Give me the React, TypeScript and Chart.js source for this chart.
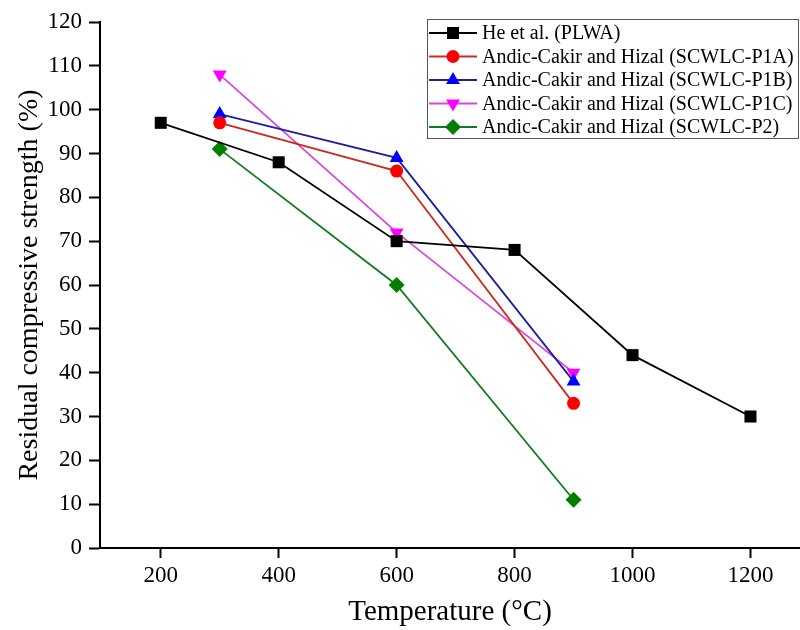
import React, { useEffect, useRef } from "react";
import { Chart, registerables } from "chart.js";

Chart.register(...registerables);

const heTemps = [200, 400, 600, 800, 1000, 1200];
const heValues = [97, 88, 70, 68, 44, 30];
const andicTemps = [300, 600, 900];
const p1aValues = [97, 86, 33];
const p1bValues = [99, 89, 38];
const p1cValues = [108, 72, 40];
const p2Values = [91, 60, 11];
const xTickValues = [200, 400, 600, 800, 1000, 1200];

const seriesLabels = [
  "He et al. (PLWA)",
  "Andic-Cakir and Hizal (SCWLC-P1A)",
  "Andic-Cakir and Hizal (SCWLC-P1B)",
  "Andic-Cakir and Hizal (SCWLC-P1C)",
  "Andic-Cakir and Hizal (SCWLC-P2)",
];

const FONT = "'Liberation Serif', 'Times New Roman', serif";

const toPoints = (xs: number[], ys: number[]) => xs.map((x, i) => ({ x, y: ys[i] }));

// Same geometry as Chart.js point styles
function drawMarker(ctx: CanvasRenderingContext2D, style: string, r: number, rot: number, x: number, y: number, color: string) {
  ctx.save();
  ctx.fillStyle = color;
  ctx.translate(x, y);
  ctx.rotate((rot * Math.PI) / 180);
  ctx.beginPath();
  if (style === "rect") {
    const s = r * Math.SQRT1_2;
    ctx.rect(-s, -s, 2 * s, 2 * s);
  } else if (style === "circle") {
    ctx.arc(0, 0, r, 0, Math.PI * 2);
  } else if (style === "triangle") {
    for (let k = 0; k < 3; k++) {
      const a = (k * 2 * Math.PI) / 3;
      const px = Math.sin(a) * r;
      const py = -Math.cos(a) * r;
      if (k === 0) ctx.moveTo(px, py);
      else ctx.lineTo(px, py);
    }
    ctx.closePath();
  } else {
    ctx.moveTo(0, -r);
    ctx.lineTo(r, 0);
    ctx.lineTo(0, r);
    ctx.lineTo(-r, 0);
    ctx.closePath();
  }
  ctx.fill();
  ctx.restore();
}

const legendPlugin = {
  id: "boxLegend",
  afterDraw(chart: any) {
    const ctx = chart.ctx;
    const datasets = chart.data.datasets;
    const boxRight = chart.width - 2;
    const boxLeft = 427;
    const boxTop = 19;
    const rowH = 23.5;
    const boxBottom = 138;
    ctx.save();
    ctx.fillStyle = "#fff";
    ctx.fillRect(boxLeft, boxTop, boxRight - boxLeft, boxBottom - boxTop);
    ctx.strokeStyle = "#555";
    ctx.lineWidth = 1;
    ctx.strokeRect(boxLeft + 0.5, boxTop + 0.5, boxRight - boxLeft, boxBottom - boxTop);
    ctx.font = `20px ${FONT}`;
    ctx.textBaseline = "middle";
    datasets.forEach((ds: any, i: number) => {
      const y = boxTop + 14 + i * rowH;
      ctx.strokeStyle = ds.borderColor;
      ctx.lineWidth = 2;
      ctx.beginPath();
      ctx.moveTo(boxLeft + 2, y);
      ctx.lineTo(boxLeft + 50, y);
      ctx.stroke();
      drawMarker(ctx, ds.pointStyle, ds.pointRadius, ds.pointRotation || 0, boxLeft + 26, y, ds.pointBackgroundColor);
      ctx.fillStyle = "#000";
      ctx.fillText(ds.label, boxLeft + 55, y + 1);
    });
    ctx.restore();
  },
};

export default function App() {
  const ref = useRef<HTMLCanvasElement | null>(null);
  useEffect(() => {
    if (!ref.current) return;
    const mk = (label: string, xs: number[], ys: number[], line: string, fill: string, style: string, r: number, rot = 0) => ({
      label,
      data: toPoints(xs, ys),
      borderColor: line,
      backgroundColor: fill,
      pointBackgroundColor: fill,
      pointBorderColor: fill,
      pointStyle: style,
      pointRadius: r,
      pointRotation: rot,
      pointBorderWidth: 0,
      borderWidth: 1.8,
      showLine: true,
      tension: 0,
      clip: false,
    });
    const chart = new Chart(ref.current, {
      type: "scatter",
      data: {
        datasets: [
          mk(seriesLabels[0], heTemps, heValues, "#000000", "#000000", "rect", 8.5),
          mk(seriesLabels[1], andicTemps, p1aValues, "#cc2a1e", "#ff0000", "circle", 6.5),
          mk(seriesLabels[2], andicTemps, p1bValues, "#1e1ea0", "#0000ff", "triangle", 8),
          mk(seriesLabels[3], andicTemps, p1cValues, "#dd44dd", "#ff00ff", "triangle", 8, 180),
          mk(seriesLabels[4], andicTemps, p2Values, "#137a22", "#008000", "rectRot", 8),
        ] as any,
      },
      plugins: [legendPlugin],
      options: {
        animation: false,
        responsive: false,
        devicePixelRatio: 1,
        layout: { autoPadding: false, padding: { left: 0, top: 22, right: 0, bottom: 0 } },
        plugins: { legend: { display: false }, tooltip: { enabled: false } },
        scales: {
          x: {
            type: "linear",
            min: 97,
            max: 1284,
            afterBuildTicks: (axis: any) => {
              axis.ticks = xTickValues.map((v) => ({ value: v }));
            },
            afterFit: (scale: any) => {
              scale.height = 82;
              scale.paddingLeft = 0;
              scale.paddingRight = 0;
            },
            grid: { drawOnChartArea: false, drawTicks: true, tickLength: 10, tickColor: "#000", tickWidth: 2 },
            border: { display: true, color: "#000", width: 2 },
            ticks: {
              color: "#000",
              font: { family: FONT, size: 23 },
              padding: 4,
              maxRotation: 0,
              callback: (v: any) => String(v),
            },
            title: { display: true, text: "Temperature (°C)", color: "#000", font: { family: FONT, size: 29 }, padding: { top: 0, bottom: 0 } },
          },
          y: {
            type: "linear",
            min: 0,
            max: 120,
            afterFit: (scale: any) => {
              scale.width = 100;
              scale.paddingTop = 0;
              scale.paddingBottom = 0;
            },
            grid: { drawOnChartArea: false, drawTicks: true, tickLength: 11, tickColor: "#000", tickWidth: 2 },
            border: { display: true, color: "#000", width: 2 },
            ticks: { stepSize: 10, color: "#000", font: { family: FONT, size: 23 }, padding: 7, callback: (v: any) => String(v) },
            title: { display: true, text: "Residual compressive strength (%)", color: "#000", font: { family: FONT, size: 28 }, padding: { top: 13, bottom: 0 } },
          },
        },
      } as any,
    });
    return () => chart.destroy();
  }, []);
  return (
    <div style={{ position: "absolute", left: 0, top: 0, width: 800, height: 630, background: "#fff" }}>
      <canvas ref={ref} width={800} height={630} />
    </div>
  );
}
